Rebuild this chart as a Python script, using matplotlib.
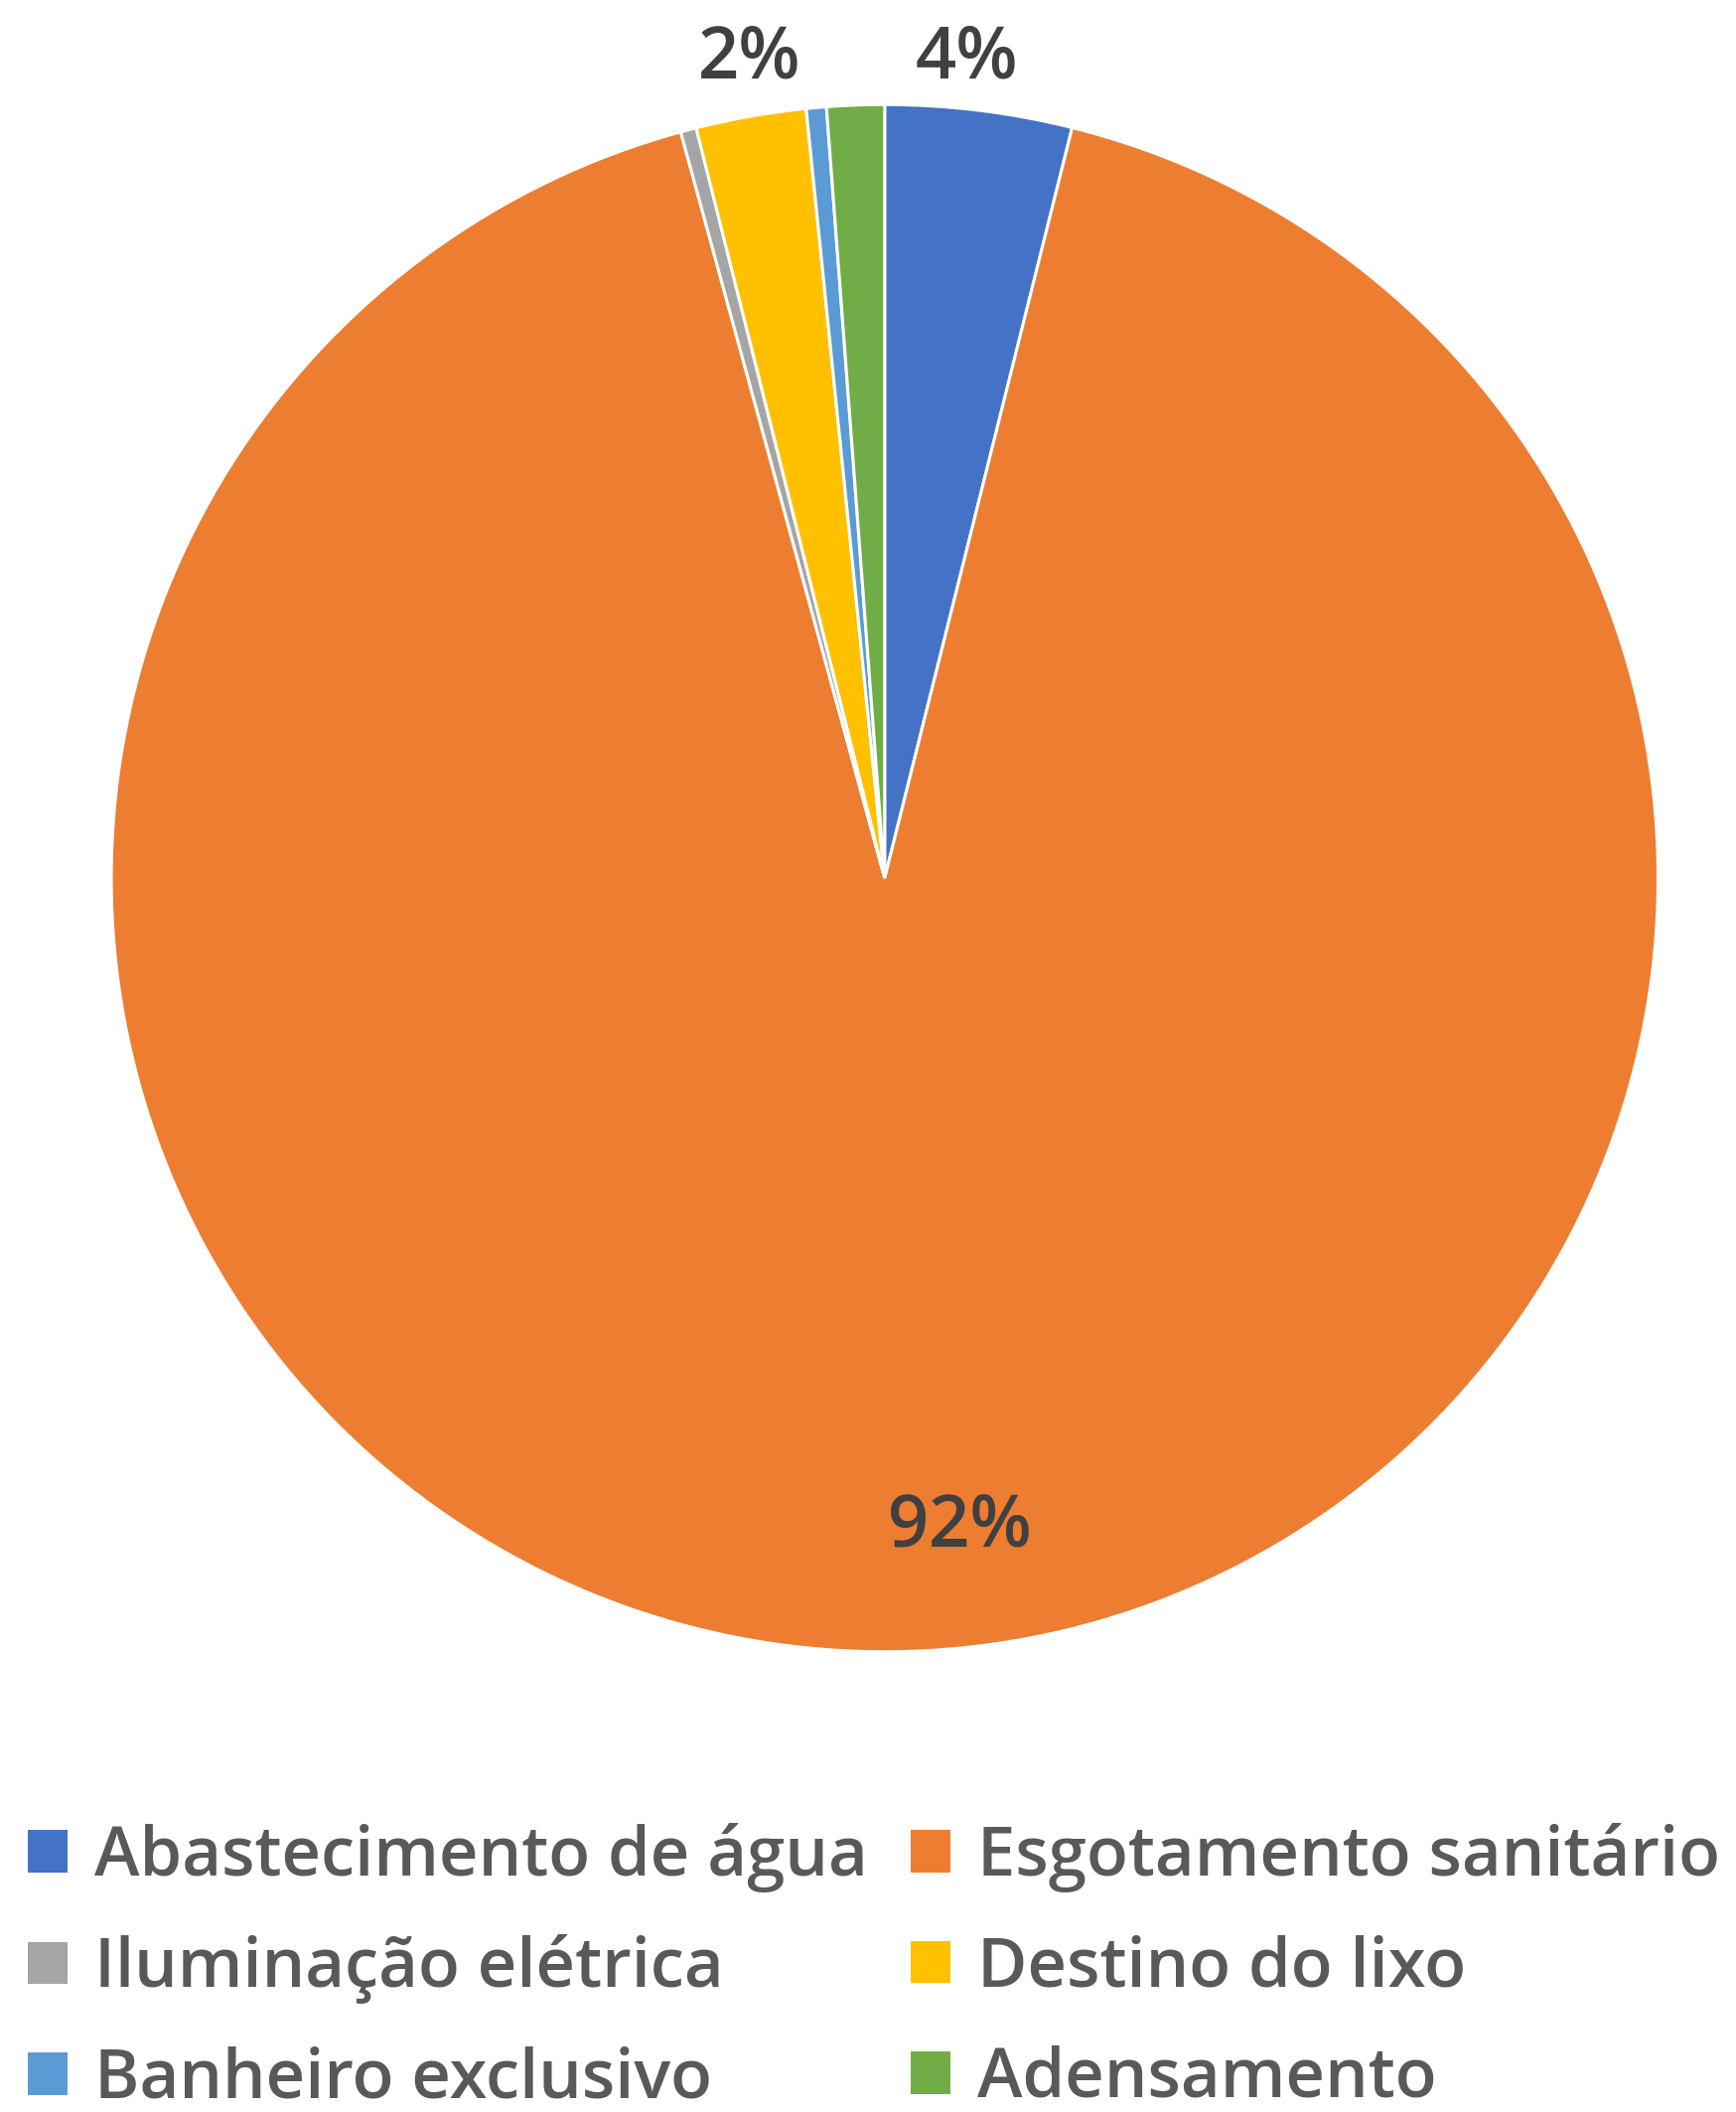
import matplotlib.pyplot as plt
from matplotlib.patches import Patch

categories = ["Abastecimento de água", "Esgotamento sanitário", "Iluminação elétrica",
              "Destino do lixo", "Banheiro exclusivo", "Adensamento"]
shares = [3.9, 91.9, 0.33, 2.3, 0.42, 1.2]
colors = ["#4472C4", "#ED7D31", "#A5A5A5", "#FFC000", "#5B9BD5", "#70AD47"]
# only these slices carry a value label: index -> label position (figure fraction)
label_pos = {0: (0.557, 0.972), 3: (0.432, 0.972), 1: (0.553, 0.277)}

plt.rcParams["font.family"] = ["Open Sans", "DejaVu Sans"]

fig = plt.figure(figsize=(17.48, 21.26), dpi=100)
ax = fig.add_axes([0.0641, 0.2178, 0.891, 0.7328])
wedges, _ = ax.pie(shares, colors=colors, startangle=90, counterclock=False,
                   wedgeprops=dict(edgecolor="white", linewidth=2.2))
ax.set_aspect("equal")
ax.set_xlim(-1, 1)
ax.set_ylim(-1, 1)
ax.axis("off")

for i, (x, y) in label_pos.items():
    ax.text(x, y, f"{round(shares[i])}%", transform=fig.transFigure,
            ha="center", va="center", fontsize=52, fontweight="semibold",
            color="#404040")

# legend fills column by column, so reorder to read row by row
order = [0, 2, 4, 1, 3, 5]
handles = [Patch(facecolor=colors[i], edgecolor="none") for i in order]
labels = [categories[i] for i in order]
leg = fig.legend(handles, labels, loc="upper left", bbox_to_anchor=(0.016, 0.137),
                 ncol=2, frameon=False, fontsize=49.5, labelcolor="#595959",
                 handlelength=0.58, handleheight=0.58, handletextpad=0.4,
                 columnspacing=0.62, labelspacing=0.62, borderaxespad=0,
                 borderpad=0)
for t in leg.get_texts():
    t.set_fontweight("semibold")

fig.savefig("out.png", dpi=100)
